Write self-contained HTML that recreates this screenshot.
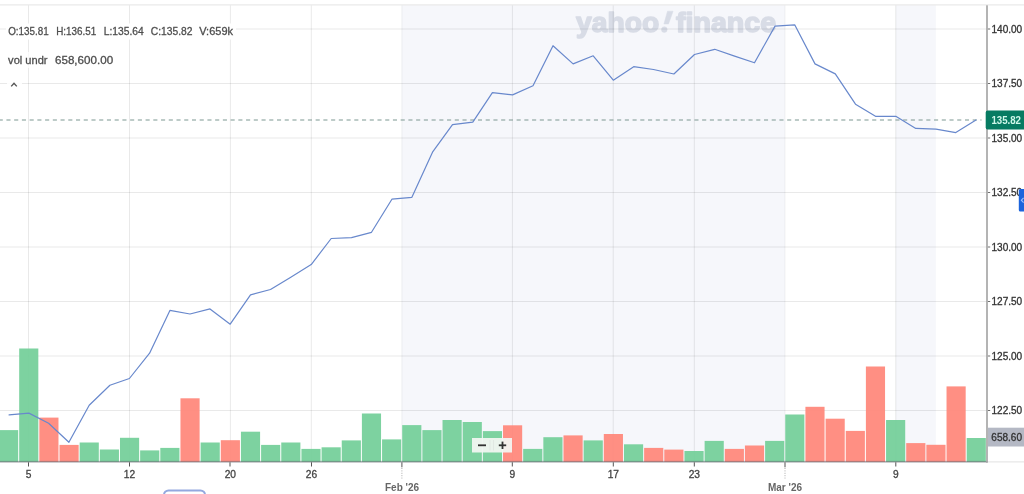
<!DOCTYPE html>
<html><head><meta charset="utf-8"><title>Chart</title>
<style>html,body{margin:0;padding:0;background:#fff;}body{width:1024px;height:494px;overflow:hidden;position:relative;font-family:"Liberation Sans",sans-serif;}svg{position:absolute;left:0;top:0;display:block;will-change:transform;}text{font-family:"Liberation Sans",sans-serif;}</style>
</head><body>
<svg width="1024" height="494" viewBox="0 0 1024 494">
<rect x="0" y="0" width="1024" height="494" fill="#ffffff"/>
<rect x="401.7" y="5" width="383.3" height="457" fill="#f6f7fb"/>
<rect x="895.8" y="5" width="40" height="457" fill="#f6f7fb"/>
<g id="wm" fill="#d8dce6" stroke="#d8dce6" stroke-width="1.5" stroke-linejoin="round" font-weight="bold" font-size="27px"><text x="576.1" y="31.6" textLength="83.2" lengthAdjust="spacingAndGlyphs">yahoo</text><path d="M667.5 11.2 L673.1 11.2 L668.5 24 L663.9 24 Z" stroke-width="0.5"/><circle cx="664.3" cy="29.6" r="2.9" stroke-width="0.4"/><text x="675.9" y="31.6" textLength="100.3" lengthAdjust="spacingAndGlyphs">finance</text></g>
<g stroke="#000" stroke-opacity="0.088" stroke-width="1">
<line x1="28.5" y1="5" x2="28.5" y2="462"/>
<line x1="129.5" y1="5" x2="129.5" y2="462"/>
<line x1="230.4" y1="5" x2="230.4" y2="462"/>
<line x1="311.3" y1="5" x2="311.3" y2="462"/>
<line x1="512.4" y1="5" x2="512.4" y2="462"/>
<line x1="613.2" y1="5" x2="613.2" y2="462"/>
<line x1="694.3" y1="5" x2="694.3" y2="462"/>
<line x1="895.8" y1="5" x2="895.8" y2="462"/>
<line x1="0" y1="29.0" x2="987" y2="29.0"/>
<line x1="0" y1="83.5" x2="987" y2="83.5"/>
<line x1="0" y1="138.0" x2="987" y2="138.0"/>
<line x1="0" y1="192.5" x2="987" y2="192.5"/>
<line x1="0" y1="247.0" x2="987" y2="247.0"/>
<line x1="0" y1="301.5" x2="987" y2="301.5"/>
<line x1="0" y1="356.0" x2="987" y2="356.0"/>
<line x1="0" y1="410.5" x2="987" y2="410.5"/>
<line x1="401.9" y1="5" x2="401.9" y2="462" stroke-opacity="0.05"/>
<line x1="785" y1="5" x2="785" y2="462" stroke-opacity="0.05"/>
</g>
<rect x="0" y="4.3" width="1024" height="1.2" fill="#e9e9e9"/>
<g>
<rect x="-0.98" y="430.1" width="19.15" height="31.8" fill="#73cf99" fill-opacity="0.93"/>
<rect x="19.18" y="348.5" width="19.15" height="113.4" fill="#73cf99" fill-opacity="0.93"/>
<rect x="39.33" y="417.6" width="19.15" height="44.3" fill="#ff877a" fill-opacity="0.93"/>
<rect x="59.50" y="444.9" width="19.15" height="17.0" fill="#ff877a" fill-opacity="0.93"/>
<rect x="79.66" y="442.5" width="19.15" height="19.4" fill="#73cf99" fill-opacity="0.93"/>
<rect x="99.81" y="449.5" width="19.15" height="12.4" fill="#73cf99" fill-opacity="0.93"/>
<rect x="119.98" y="437.8" width="19.15" height="24.1" fill="#73cf99" fill-opacity="0.93"/>
<rect x="140.14" y="450.4" width="19.15" height="11.5" fill="#73cf99" fill-opacity="0.93"/>
<rect x="160.30" y="447.9" width="19.15" height="14.0" fill="#73cf99" fill-opacity="0.93"/>
<rect x="180.46" y="398.3" width="19.15" height="63.6" fill="#ff877a" fill-opacity="0.93"/>
<rect x="200.62" y="442.5" width="19.15" height="19.4" fill="#73cf99" fill-opacity="0.93"/>
<rect x="220.78" y="440.2" width="19.15" height="21.7" fill="#ff877a" fill-opacity="0.93"/>
<rect x="240.94" y="431.7" width="19.15" height="30.2" fill="#73cf99" fill-opacity="0.93"/>
<rect x="261.09" y="444.9" width="19.15" height="17.0" fill="#73cf99" fill-opacity="0.93"/>
<rect x="281.25" y="442.5" width="19.15" height="19.4" fill="#73cf99" fill-opacity="0.93"/>
<rect x="301.41" y="448.9" width="19.15" height="13.0" fill="#73cf99" fill-opacity="0.93"/>
<rect x="321.57" y="447.3" width="19.15" height="14.6" fill="#73cf99" fill-opacity="0.93"/>
<rect x="341.74" y="440.4" width="19.15" height="21.5" fill="#73cf99" fill-opacity="0.93"/>
<rect x="361.89" y="413.5" width="19.15" height="48.4" fill="#73cf99" fill-opacity="0.93"/>
<rect x="382.06" y="439.4" width="19.15" height="22.5" fill="#73cf99" fill-opacity="0.93"/>
<rect x="402.21" y="425.1" width="19.15" height="36.8" fill="#73cf99" fill-opacity="0.93"/>
<rect x="422.38" y="430.1" width="19.15" height="31.8" fill="#73cf99" fill-opacity="0.93"/>
<rect x="442.53" y="420.0" width="19.15" height="41.9" fill="#73cf99" fill-opacity="0.93"/>
<rect x="462.69" y="422.0" width="19.15" height="39.9" fill="#73cf99" fill-opacity="0.93"/>
<rect x="482.86" y="431.1" width="19.15" height="30.8" fill="#73cf99" fill-opacity="0.93"/>
<rect x="503.02" y="425.3" width="19.15" height="36.6" fill="#ff877a" fill-opacity="0.93"/>
<rect x="523.17" y="448.9" width="19.15" height="13.0" fill="#73cf99" fill-opacity="0.93"/>
<rect x="543.34" y="437.2" width="19.15" height="24.7" fill="#73cf99" fill-opacity="0.93"/>
<rect x="563.50" y="435.4" width="19.15" height="26.5" fill="#ff877a" fill-opacity="0.93"/>
<rect x="583.65" y="440.4" width="19.15" height="21.5" fill="#73cf99" fill-opacity="0.93"/>
<rect x="603.81" y="434.0" width="19.15" height="27.9" fill="#ff877a" fill-opacity="0.93"/>
<rect x="623.98" y="444.3" width="19.15" height="17.6" fill="#73cf99" fill-opacity="0.93"/>
<rect x="644.13" y="447.9" width="19.15" height="14.0" fill="#ff877a" fill-opacity="0.93"/>
<rect x="664.29" y="449.6" width="19.15" height="12.3" fill="#ff877a" fill-opacity="0.93"/>
<rect x="684.46" y="451.0" width="19.15" height="10.9" fill="#73cf99" fill-opacity="0.93"/>
<rect x="704.62" y="440.9" width="19.15" height="21.0" fill="#73cf99" fill-opacity="0.93"/>
<rect x="724.77" y="448.9" width="19.15" height="13.0" fill="#ff877a" fill-opacity="0.93"/>
<rect x="744.93" y="445.5" width="19.15" height="16.4" fill="#ff877a" fill-opacity="0.93"/>
<rect x="765.10" y="440.9" width="19.15" height="21.0" fill="#73cf99" fill-opacity="0.93"/>
<rect x="785.25" y="414.5" width="19.15" height="47.4" fill="#73cf99" fill-opacity="0.93"/>
<rect x="805.41" y="406.8" width="19.15" height="55.1" fill="#ff877a" fill-opacity="0.93"/>
<rect x="825.58" y="418.7" width="19.15" height="43.2" fill="#ff877a" fill-opacity="0.93"/>
<rect x="845.74" y="430.9" width="19.15" height="31.0" fill="#ff877a" fill-opacity="0.93"/>
<rect x="865.89" y="366.5" width="19.15" height="95.4" fill="#ff877a" fill-opacity="0.93"/>
<rect x="886.05" y="420.0" width="19.15" height="41.9" fill="#73cf99" fill-opacity="0.93"/>
<rect x="906.22" y="443.1" width="19.15" height="18.8" fill="#ff877a" fill-opacity="0.93"/>
<rect x="926.38" y="444.8" width="19.15" height="17.1" fill="#ff877a" fill-opacity="0.93"/>
<rect x="946.53" y="386.4" width="19.15" height="75.5" fill="#ff877a" fill-opacity="0.93"/>
<rect x="966.70" y="438.0" width="19.15" height="23.9" fill="#73cf99" fill-opacity="0.93"/>
</g>
<rect x="986" y="461.4" width="40" height="1" fill="#e2e2e2"/>
<rect x="0" y="460.9" width="987.6" height="1.7" fill="#5a5a64" fill-opacity="0.5"/>
<line x1="-1.3" y1="120" x2="981.5" y2="120" stroke="#7c9891" stroke-width="1.2" stroke-dasharray="4.1 3.63"/>
<polyline points="9.1,414.9 28.9,413.1 48.6,423.2 68.9,442.3 89.2,405.2 109.9,385.2 129.4,378.5 149.6,353.2 169.9,310.4 190,314 210,308.9 230.2,324.2 250.5,294.8 270.5,289.5 290.8,277.3 311.2,264.6 331.2,238.5 351.5,237.7 371.5,232.3 391.9,199.2 411.9,197.3 432.5,152.2 452.5,124.6 472.8,122.2 492.4,92.7 512.6,94.9 533,85.8 553,45.7 573.1,63.9 593.2,55.8 613.3,80.2 633.7,66.7 653.5,69.5 673.9,74 694.5,54.5 714.7,49.3 734.6,56.1 754.5,62.8 775,26.1 794.7,24.8 815,63.9 835.3,73.9 855.5,104.2 875.5,116.3 895.8,116.3 915.8,128.4 936,129.2 955.8,132.6 976,120" fill="none" stroke="#6888cc" stroke-width="1.2" stroke-linejoin="round" stroke-linecap="round"/>
<rect x="986.2" y="5.3" width="1.6" height="457.3" fill="#a2a2a2"/>
<g fill="#707070">
<rect x="987.9" y="28.5" width="2.3" height="1"/>
<rect x="987.9" y="83.0" width="2.3" height="1"/>
<rect x="987.9" y="137.5" width="2.3" height="1"/>
<rect x="987.9" y="192.0" width="2.3" height="1"/>
<rect x="987.9" y="246.5" width="2.3" height="1"/>
<rect x="987.9" y="301.0" width="2.3" height="1"/>
<rect x="987.9" y="355.5" width="2.3" height="1"/>
<rect x="987.9" y="410.0" width="2.3" height="1"/>
</g>
<g font-size="10px" fill="#333" stroke="#333" stroke-width="0.3">
<text x="991.5" y="32.9" textLength="30.7" lengthAdjust="spacingAndGlyphs">140.00</text>
<text x="991.5" y="87.4" textLength="30.7" lengthAdjust="spacingAndGlyphs">137.50</text>
<text x="991.5" y="141.9" textLength="30.7" lengthAdjust="spacingAndGlyphs">135.00</text>
<text x="991.5" y="196.4" textLength="30.7" lengthAdjust="spacingAndGlyphs">132.50</text>
<text x="991.5" y="250.9" textLength="30.7" lengthAdjust="spacingAndGlyphs">130.00</text>
<text x="991.5" y="305.4" textLength="30.7" lengthAdjust="spacingAndGlyphs">127.50</text>
<text x="991.5" y="359.9" textLength="30.7" lengthAdjust="spacingAndGlyphs">125.00</text>
<text x="991.5" y="414.4" textLength="30.7" lengthAdjust="spacingAndGlyphs">122.50</text>
</g>
<g fill="#555">
<rect x="28.0" y="462.3" width="1" height="4.2"/>
<rect x="129.0" y="462.3" width="1" height="4.2"/>
<rect x="229.5" y="462.3" width="1" height="4.2"/>
<rect x="311.0" y="462.3" width="1" height="4.2"/>
<rect x="511.79999999999995" y="462.3" width="1" height="4.2"/>
<rect x="612.8" y="462.3" width="1" height="4.2"/>
<rect x="693.8" y="462.3" width="1" height="4.2"/>
<rect x="895.3" y="462.3" width="1" height="4.2"/>
<rect x="401.4" y="462.3" width="1" height="5"/>
<line x1="401.9" y1="468" x2="401.9" y2="478.5" stroke="#aaa" stroke-width="1" stroke-dasharray="1 1.4"/>
<rect x="784.5" y="462.3" width="1" height="5"/>
<line x1="785" y1="468" x2="785" y2="478.5" stroke="#aaa" stroke-width="1" stroke-dasharray="1 1.4"/>
</g>
<g font-size="10.2px" fill="#444" stroke="#444" stroke-width="0.3" text-anchor="middle">
<text x="28.5" y="478.4">5</text>
<text x="129.5" y="478.4">12</text>
<text x="230.3" y="478.4">20</text>
<text x="311.5" y="478.4">26</text>
<text x="512.3" y="478.4">9</text>
<text x="613.3" y="478.4">17</text>
<text x="694.3" y="478.4">23</text>
<text x="895.8" y="478.4">9</text>
</g>
<g font-size="10px" font-weight="bold" fill="#666" text-anchor="middle">
<text x="402" y="491.2">Feb '26</text><text x="785" y="491.2">Mar '26</text>
</g>
<rect x="988" y="427.7" width="40" height="18.8" fill="#b4b8c4"/>
<text x="991.3" y="440.7" font-size="10px" fill="#333" stroke="#333" stroke-width="0.3" textLength="30.7" lengthAdjust="spacingAndGlyphs">658.60</text>
<rect x="985.7" y="110.6" width="42" height="18.9" rx="2" fill="#067b62"/>
<text x="991.4" y="124.3" font-size="10px" font-weight="bold" fill="#cff7ea" textLength="29.6" lengthAdjust="spacingAndGlyphs">135.82</text>
<rect x="1018.8" y="189" width="10" height="22.6" rx="1.5" fill="#1c64dc"/>
<path d="M1023.6 197.8 L1021.4 200.2 L1023.6 202.6" fill="none" stroke="#9cc0ff" stroke-width="1.2"/>
<rect x="6" y="23.5" width="230" height="16" fill="#fff"/>
<rect x="6" y="52" width="110" height="16" fill="#fff" fill-opacity="0.7"/>
<rect x="7" y="78" width="15" height="12" fill="#fff" fill-opacity="0.9"/>
<g font-size="10.6px" fill="#4d4d4d" stroke="#4d4d4d" stroke-width="0.28">
<text x="8.2" y="34.9" textLength="40.5" lengthAdjust="spacingAndGlyphs">O:135.81</text>
<text x="56.2" y="34.9" textLength="40.0" lengthAdjust="spacingAndGlyphs">H:136.51</text>
<text x="103.8" y="34.9" textLength="40.0" lengthAdjust="spacingAndGlyphs">L:135.64</text>
<text x="150.8" y="34.9" textLength="41.7" lengthAdjust="spacingAndGlyphs">C:135.82</text>
<text x="199.2" y="34.9" textLength="33.8" lengthAdjust="spacingAndGlyphs">V:659k</text>
<text x="8.1" y="63.8" textLength="39.4" lengthAdjust="spacingAndGlyphs">vol undr</text>
<text x="55" y="63.8" textLength="58.1" lengthAdjust="spacingAndGlyphs">658,600.00</text>
</g>
<path d="M11.2 86.4 L14 83.2 L16.8 86.4" fill="none" stroke="#555" stroke-width="1.4"/>
<rect x="472" y="438" width="40" height="14.5" fill="#f3f6f3" fill-opacity="0.93"/>
<rect x="489.6" y="440" width="0.8" height="10.5" fill="#dfe5e0"/><rect x="493.2" y="440" width="0.8" height="10.5" fill="#dfe5e0"/>
<rect x="478" y="444.4" width="8" height="1.8" fill="#333"/>
<rect x="498.8" y="444.4" width="7.4" height="1.8" fill="#333"/><rect x="501.6" y="441.6" width="1.8" height="7.4" fill="#333"/>
<rect x="164" y="490.5" width="41" height="20" rx="4.5" fill="#fff" stroke="#93a8df" stroke-width="2"/>
</svg>
</body></html>
